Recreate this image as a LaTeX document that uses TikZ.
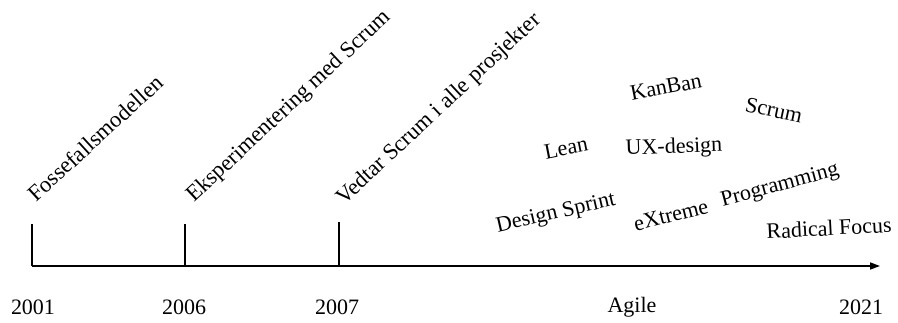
\documentclass[tikz,border=0pt]{standalone}
\usepackage{fontspec}
\setmainfont{Liberation Serif}
\usetikzlibrary{arrows.meta}
\begin{document}
\begin{tikzpicture}[x=1pt,y=-1pt,
  lbl/.style={inner sep=0pt,font=\fontsize{22}{26}\selectfont},
  milestone/.style={inner sep=0pt,anchor=base west,rotate=43,font=\fontsize{22.6}{26}\selectfont},
  axisline/.style={line width=1.6pt},
  tickline/.style={line width=1.6pt}]
\useasboundingbox (0,0) rectangle (898,322);
% axis
\coordinate (a0) at (32,266);
\coordinate (a1) at (880,266);
\draw[axisline,-{Stealth[length=10pt,width=7pt,inset=0pt]}] (a0) -- (a1);
% ticks
\coordinate (t1b) at (32,266); \coordinate (t1t) at (32,224);
\coordinate (t2b) at (185,266); \coordinate (t2t) at (185,224);
\coordinate (t3b) at (339,266); \coordinate (t3t) at (339,222);
\draw[tickline] (t1b) -- (t1t);
\draw[tickline] (t2b) -- (t2t);
\draw[tickline] (t3b) -- (t3t);
% years
\node[lbl] (y1) at (33,307) {2001};
\node[lbl] (y2) at (184,307) {2006};
\node[lbl] (y3) at (337,307) {2007};
\node[lbl] (ag) at (632,307) {Agile};
\node[lbl] (y4) at (861,307) {2021};
% rotated milestone labels
\node[milestone,rotate=-0.5] (m1) at (36,203) {Fossefallsmodellen};
\node[milestone] (m2) at (194,203) {Eksperimentering med Scrum};
\node[milestone] (m3) at (344,206) {Vedtar Scrum i alle prosjekter};
% agile words
\node[lbl,rotate=11] (kb) at (666,87) {KanBan};
\node[lbl,rotate=-12] (sc) at (774,110) {Scrum};
\node[lbl,rotate=11] (le) at (566,148) {Lean};
\node[lbl,rotate=2] (ux) at (674,148) {UX-design};
\node[lbl,rotate=13] (ds) at (556,214) {Design Sprint};
\node[lbl,rotate=14] (ex) at (671,215) {eXtreme};
\node[lbl,rotate=15] (pr) at (780,186) {Programming};
\node[lbl,rotate=3] (rf) at (829,228) {Radical Focus};
\end{tikzpicture}
\end{document}
